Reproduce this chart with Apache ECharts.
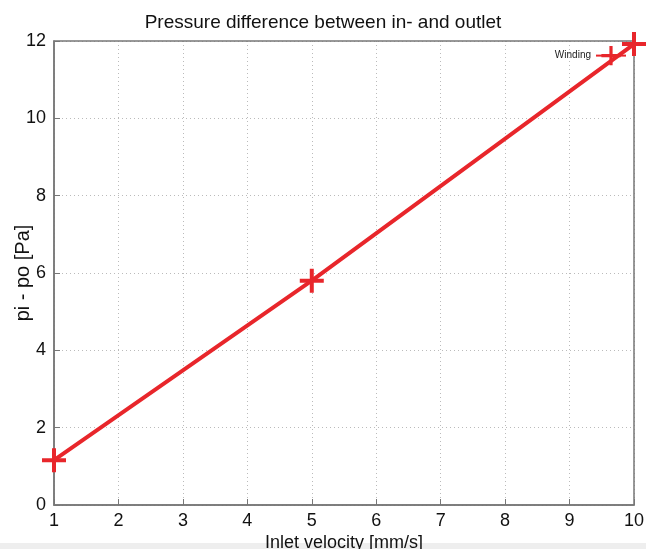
<!DOCTYPE html>
<html>
<head>
<meta charset="utf-8">
<script src="https://cdn.jsdelivr.net/npm/echarts@6/dist/echarts.min.js"></script>
<style>
  html, body { margin: 0; padding: 0; background: #fff; }
  #chart { width: 646px; height: 549px; }
</style>
</head>
<body>
<div id="chart"></div>
<script>
// inlet velocity [mm/s] and pressure difference [Pa]
const velocity = [1, 5, 10];
const pressure = [1.16, 5.8, 11.92];
const seriesName = 'Winding';

const plus = 'path://M10,0 H14 V24 H10 Z M0,10 H24 V14 H0 Z';
const red = '#e8262b';

const chart = echarts.init(document.getElementById('chart'));
chart.setOption({
  animation: false,
  title: {
    text: 'Pressure difference between in- and outlet',
    left: 'center',
    top: 8,
    textStyle: { fontFamily: 'Liberation Sans', fontSize: 19, fontWeight: 'normal', color: '#111' }
  },
  legend: {
    data: [seriesName],
    right: 14,
    top: 41,
    align: 'right',
    itemWidth: 30,
    itemHeight: 24,
    itemGap: 4,
    textStyle: { fontFamily: 'Liberation Sans', fontSize: 10, color: '#222' }
  },
  grid: { left: 54, right: 12, top: 41, bottom: 44, containLabel: false, outerBoundsMode: 'none' },
  xAxis: {
    type: 'value',
    min: 1,
    max: 10,
    interval: 1,
    name: 'Inlet velocity [mm/s]',
    nameLocation: 'middle',
    nameGap: 29,
    nameMoveOverlap: false,
    nameTextStyle: { fontFamily: 'Liberation Sans', fontSize: 18, color: '#111' },
    axisLine: { show: true, onZero: false, lineStyle: { color: '#777', width: 1.5 } },
    axisTick: { inside: true, length: 6, lineStyle: { color: '#777' } },
    axisLabel: { fontFamily: 'Liberation Sans', fontSize: 18, color: '#111', margin: 7 },
    splitLine: { show: true, lineStyle: { color: '#bbb', type: [1, 3] } }
  },
  yAxis: {
    type: 'value',
    min: 0,
    max: 12,
    interval: 2,
    name: 'pi - po [Pa]',
    nameLocation: 'middle',
    nameGap: 21,
    nameMoveOverlap: false,
    nameTextStyle: { fontFamily: 'Liberation Sans', fontSize: 20, color: '#111' },
    axisLine: { show: true, lineStyle: { color: '#777', width: 1.5 } },
    axisTick: { show: true, inside: true, length: 6, lineStyle: { color: '#777' } },
    axisLabel: { fontFamily: 'Liberation Sans', fontSize: 18, color: '#111', margin: 8 },
    splitLine: { show: true, lineStyle: { color: '#bbb', type: [1, 3] } }
  },
  graphic: [
    { type: 'rect', shape: { x: 54, y: 41, width: 580, height: 464 }, style: { fill: 'none', stroke: '#777', lineWidth: 1.5 }, z: 1 },
    { type: 'rect', shape: { x: 0, y: 543, width: 646, height: 6 }, style: { fill: '#eeeeee' } }
  ],
  series: [{
    name: seriesName,
    type: 'line',
    data: velocity.map((v, i) => [v, pressure[i]]),
    symbol: plus,
    symbolSize: 24,
    lineStyle: { color: red, width: 4 },
    itemStyle: { color: red },
    z: 5
  }]
});
</script>
</body>
</html>
